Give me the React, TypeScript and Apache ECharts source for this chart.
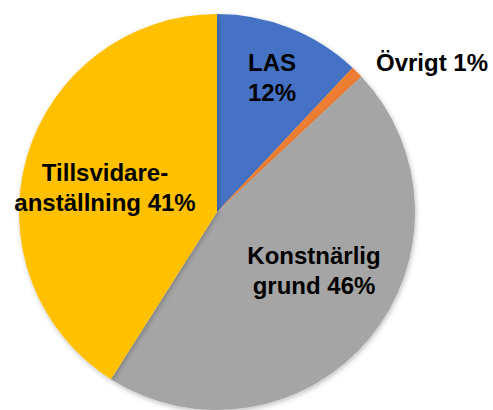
import React, { useEffect, useRef } from "react";
import * as echarts from "echarts";

const categories = ["LAS", "Övrigt", "Konstnärlig grund", "Tillsvidareanställning"];
const labelTexts = ["LAS\n12%", "Övrigt 1%", "Konstnärlig\ngrund 46%", "Tillsvidare-\nanställning 41%"];
const values = [12, 1, 46, 41];
const colors = ["#4472C4", "#ED7D31", "#A5A5A5", "#FFC000"];
const labelPos: [number, number][] = [
  [272, 77],
  [432, 62],
  [314, 270],
  [105, 187],
];

export default function App() {
  const ref = useRef<HTMLDivElement>(null);
  useEffect(() => {
    if (!ref.current) return;
    const chart = echarts.init(ref.current, undefined, { renderer: "svg" });
    chart.setOption({
      animation: false,
      series: [
        {
          type: "pie",
          center: [217, 212],
          radius: [0, 198],
          startAngle: 90,
          clockwise: true,
          avoidLabelOverlap: false,
          data: categories.map((name, i) => ({
            name,
            value: values[i],
            itemStyle: { color: colors[i] },
            label: { formatter: labelTexts[i] },
          })),
          itemStyle: {
            borderWidth: 0,
            shadowBlur: 5,
            shadowColor: "rgba(0,0,0,0.25)",
            shadowOffsetX: 1,
            shadowOffsetY: 2,
          },
          label: {
            show: true,
            position: "inside",
            color: "#000",
            fontFamily: "Liberation Sans, Arial, Helvetica, sans-serif",
            fontWeight: "bold",
            fontSize: 24,
            lineHeight: 30,
            align: "center",
            verticalAlign: "middle",
          },
          labelLine: { show: false },
          labelLayout: (params: any) => ({
            x: labelPos[params.dataIndex][0],
            y: labelPos[params.dataIndex][1],
            align: "center",
            verticalAlign: "middle",
          }),
          emphasis: { disabled: true },
        },
      ],
    });
    return () => chart.dispose();
  }, []);
  return (
    <div
      ref={ref}
      style={{ position: "fixed", left: 0, top: 0, width: 493, height: 410, background: "#fff" }}
    />
  );
}
